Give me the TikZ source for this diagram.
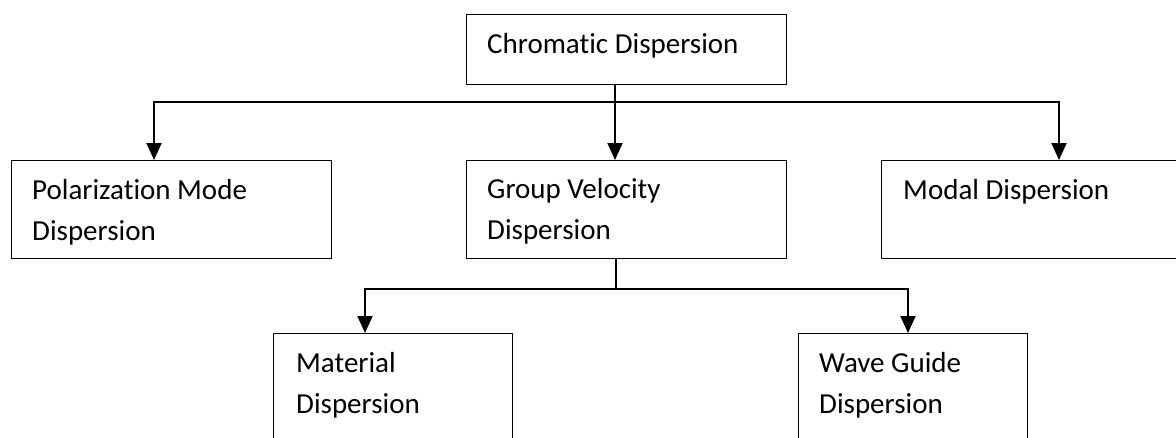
\documentclass[tikz,border=0pt]{standalone}
\usepackage{fontspec}
\setmainfont{Carlito}[Ligatures=NoCommon]
\usetikzlibrary{arrows.meta}
\begin{document}
\begin{tikzpicture}[x=1pt,y=-1pt,
  box/.style={draw, line width=1.3pt, inner sep=0pt, anchor=north west},
  lbl/.style={anchor=base west, inner sep=0pt, font=\fontsize{29}{41}\selectfont},
  conn/.style={line width=1.9pt, line join=miter},
  arr/.style={conn, -{Triangle[length=17pt,width=15pt]}}]
\useasboundingbox (0,0) rectangle (1176,437);
\clip (0,0) rectangle (1176,437);
% boxes
\node[box, minimum width=320pt, minimum height=70pt] (top) at (466,14) {};
\node[box, minimum width=320pt, minimum height=98pt] (pol) at (11,160) {};
\node[box, minimum width=320pt, minimum height=98pt] (gvd) at (466,160) {};
\node[box, minimum width=320pt, minimum height=98pt] (mod) at (881,160) {};
\node[box, minimum width=239pt, minimum height=150pt] (mat) at (273,333) {};
\node[box, minimum width=229pt, minimum height=150pt] (wav) at (798,333) {};
% labels
\node[lbl] (ttop) at (487,53) {Chromatic Dispersion};
\node[lbl] (tpol1) at (32,199) {Polarization Mode};
\node[lbl] (tpol2) at (32,240) {Dispersion};
\node[lbl] (tgvd1) at (487,198) {Group Velocity};
\node[lbl] (tgvd2) at (487,239) {Dispersion};
\node[lbl] (tmod) at (903,199) {Modal Dispersion};
\node[lbl] (tmat1) at (296,372) {Material};
\node[lbl] (tmat2) at (296,413) {Dispersion};
\node[lbl] (twav1) at (819,372) {Wave Guide};
\node[lbl] (twav2) at (819,413) {Dispersion};
% connectors
\coordinate (j1) at (615,102);
\coordinate (h1l) at (154,102);
\coordinate (h1r) at (1059,102);
\draw[arr] (top.south -| j1) -- (gvd.north -| j1);
\draw[arr] (j1) -- (h1l) -- (pol.north -| h1l);
\draw[arr] (j1) -- (h1r) -- (mod.north -| h1r);
\coordinate (j2) at (616,289);
\coordinate (h2l) at (365,289);
\coordinate (h2r) at (908,289);
\draw[conn] (gvd.south -| j2) -- (j2);
\draw[arr] (j2) -- (h2l) -- (mat.north -| h2l);
\draw[arr] (j2) -- (h2r) -- (wav.north -| h2r);
\end{tikzpicture}
\end{document}
